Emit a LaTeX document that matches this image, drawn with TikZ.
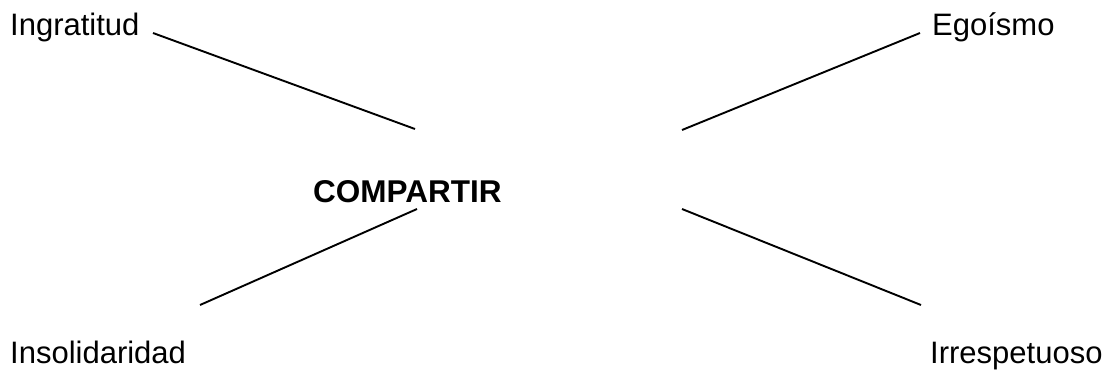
\documentclass[tikz,border=0pt]{standalone}
\usepackage{fontspec}
\setmainfont{Liberation Sans}
\usepackage{tikz}
\usetikzlibrary{positioning}

\begin{document}
\begin{tikzpicture}[
  x=1pt, y=-1pt,
  word/.style={inner sep=0pt, anchor=base west,
               font=\fontsize{31}{35}\selectfont},
  hub/.style={inner sep=0pt, anchor=base west,
              font=\bfseries\fontsize{31.5}{35}\selectfont},
  spoke/.style={line width=1.9pt},
]
\useasboundingbox (0,0) rectangle (1113,372);

\node[hub] (share) at (313, 202) {COMPARTIR};
\node[word] (ingr) at (10, 35) {Ingratitud};
\node[word] (ego) at (932, 35) {Egoísmo};
\node[word] (insol) at (10, 363) {Insolidaridad};
\node[word] (irresp) at (930, 363) {Irrespetuoso};

% ends of the spokes
\coordinate (ingr-end) at (153, 33);
\coordinate (ego-end) at (920, 33);
\coordinate (insol-end) at (200, 305);
\coordinate (irresp-end) at (921, 305);
\coordinate (hub-nw) at (415, 129);
\coordinate (hub-ne) at (682, 130);
\coordinate (hub-sw) at (417, 209);
\coordinate (hub-se) at (682, 209);

\draw[spoke] (ingr-end) -- (hub-nw);
\draw[spoke] (ego-end) -- (hub-ne);
\draw[spoke] (hub-sw) -- (insol-end);
\draw[spoke] (hub-se) -- (irresp-end);
\end{tikzpicture}
\end{document}
